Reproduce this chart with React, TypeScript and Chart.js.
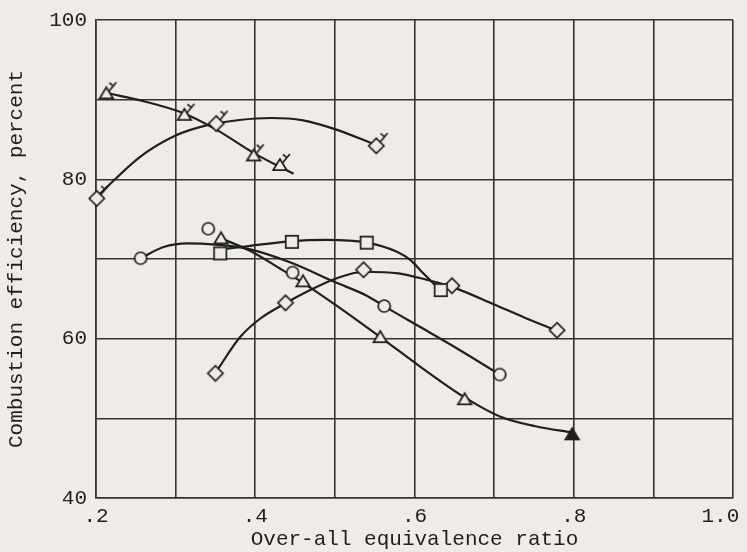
import { useEffect, useRef } from 'react';
import { Chart, registerables } from 'chart.js';

Chart.register(...registerables);

const PAPER = '#efebe7';
const INK = '#1f1f1f';
const GRID = '#333333';
const FONT = "'Liberation Mono', 'DejaVu Sans Mono', monospace";

// X axis tick labels (every other grid line is labelled)
const xTickLabels: Record<number, string> = { 2: '.2', 4: '.4', 6: '.6', 8: '.8', 10: '1.0  ' };
const yTickLabels = [40, 60, 80, 100];

// Flagged triangles
const flagTriX = [0.213, 0.311, 0.398, 0.431];
const flagTriY = [90.8, 88.1, 83.0, 81.8];
const flagTriCurveX = [0.215, 0.26, 0.31, 0.35, 0.40, 0.448];
const flagTriCurveY = [90.8, 89.8, 88.3, 86.3, 83.2, 80.7];

// Flagged diamonds
const flagDiaX = [0.201, 0.351, 0.552];
const flagDiaY = [77.6, 87.0, 84.2];
const flagDiaCurveX = [0.203, 0.255, 0.30, 0.34, 0.38, 0.42, 0.46, 0.50, 0.552];
const flagDiaCurveY = [78.0, 82.8, 85.5, 86.8, 87.45, 87.7, 87.4, 86.3, 84.3];

// Circles
const circleX = [0.256, 0.341, 0.447, 0.562, 0.707];
const circleY = [70.1, 73.8, 68.3, 64.1, 55.5];
const circleCurveX = [0.256, 0.285, 0.315, 0.35, 0.39, 0.446, 0.50, 0.54, 0.565, 0.61, 0.653, 0.707];
const circleCurveY = [70.1, 71.5, 71.95, 71.8, 71.3, 69.5, 67.1, 65.4, 63.9, 61.3, 58.8, 55.5];

// Triangles
const triX = [0.357, 0.460, 0.557, 0.663, 0.798];
const triY = [72.6, 67.2, 60.2, 52.4, 48.0];
const triCurveX = [0.357, 0.394, 0.431, 0.46, 0.507, 0.557, 0.607, 0.665, 0.708, 0.752, 0.799];
const triCurveY = [72.6, 71.0, 68.8, 67.0, 63.8, 60.2, 56.5, 52.5, 50.2, 49.0, 48.2];

// Squares
const squareX = [0.356, 0.446, 0.540, 0.633];
const squareY = [70.7, 72.15, 72.05, 66.1];
const squareCurveX = [0.356, 0.39, 0.446, 0.49, 0.54, 0.578, 0.595, 0.611, 0.632];
const squareCurveY = [71.2, 71.6, 72.25, 72.4, 72.05, 70.9, 69.85, 68.2, 66.1];

// Diamonds
const diaX = [0.350, 0.438, 0.536, 0.647, 0.779];
const diaY = [55.65, 64.5, 68.65, 66.65, 61.05];
const diaCurveX = [0.350, 0.381, 0.406, 0.439, 0.469, 0.50, 0.536, 0.58, 0.615, 0.647, 0.70, 0.737, 0.779];
const diaCurveY = [55.7, 60.2, 62.5, 64.5, 66.1, 67.5, 68.4, 68.2, 67.4, 66.5, 64.3, 62.7, 61.0];

type Kind = 'circle' | 'square' | 'triangle' | 'diamond';

function makeMarker(kind: Kind, flagged: boolean, filled = false): HTMLCanvasElement {
  const c = document.createElement('canvas');
  c.width = 36;
  c.height = 36;
  const g = c.getContext('2d')!;
  g.translate(18, 18);
  g.lineWidth = 1.7;
  g.strokeStyle = INK;
  g.fillStyle = filled ? INK : PAPER;
  g.lineJoin = 'miter';
  g.beginPath();
  let fx = 0;
  let fy = 0;
  if (kind === 'circle') {
    g.arc(0, 0, 6, 0, Math.PI * 2);
  } else if (kind === 'square') {
    g.rect(-6.2, -6.2, 12.4, 12.4);
  } else if (kind === 'triangle') {
    g.moveTo(0, -6);
    g.lineTo(6.8, 5.2);
    g.lineTo(-6.8, 5.2);
    g.closePath();
    fx = 2.5; fy = -2;
  } else {
    g.moveTo(0, -7.6);
    g.lineTo(7.6, 0);
    g.lineTo(0, 7.6);
    g.lineTo(-7.6, 0);
    g.closePath();
    fx = 3.8; fy = -3.8;
  }
  g.fill();
  g.stroke();
  if (flagged) {
    g.beginPath();
    g.lineWidth = 1.7;
    g.moveTo(fx, fy);
    g.lineTo(fx + 7.5, fy - 9);
    g.moveTo(fx + 4.5, fy - 5.4);
    g.lineTo(fx + 0.5, fy - 8.5);
    g.stroke();
  }
  return c;
}

function pts(xs: number[], ys: number[]) {
  return xs.map((x, i) => ({ x, y: ys[i] }));
}

export default function App() {
  const ref = useRef<HTMLCanvasElement>(null);

  useEffect(() => {
    if (!ref.current) return;
    const flagTri = makeMarker('triangle', true);
    const flagDia = makeMarker('diamond', true);
    const circ = makeMarker('circle', false);
    const tri = makeMarker('triangle', false);
    const triFilled = makeMarker('triangle', false, true);
    const sq = makeMarker('square', false);
    const dia = makeMarker('diamond', false);

    const curve = (xs: number[], ys: number[]) => ({
      data: pts(xs, ys),
      showLine: true,
      borderColor: INK,
      borderWidth: 2.2,
      pointRadius: 0,
      cubicInterpolationMode: 'monotone' as const,
      fill: false,
      order: 2,
      clip: false as const,
    });
    const marks = (xs: number[], ys: number[], style: any) => ({
      data: pts(xs, ys),
      showLine: false,
      pointStyle: style,
      pointRadius: 6,
      order: 1,
      clip: false as const,
    });

    const chart = new Chart(ref.current, {
      type: 'scatter',
      data: {
        datasets: [
          marks(flagTriX, flagTriY, flagTri),
          marks(flagDiaX, flagDiaY, flagDia),
          marks(circleX, circleY, circ),
          marks(triX, triY, triX.map((_, i) => (i === triX.length - 1 ? triFilled : tri))),
          marks(squareX, squareY, sq),
          marks(diaX, diaY, dia),
          curve(flagTriCurveX, flagTriCurveY),
          curve(flagDiaCurveX, flagDiaCurveY),
          curve(circleCurveX, circleCurveY),
          curve(triCurveX, triCurveY),
          curve(squareCurveX, squareCurveY),
          curve(diaCurveX, diaCurveY),
        ] as any,
      },
      options: {
        animation: false,
        responsive: false,
        devicePixelRatio: 1,
        events: [],
        layout: { padding: { left: 0, top: 20, right: 14, bottom: 0 } },
        plugins: { legend: { display: false }, tooltip: { enabled: false } },
        scales: {
          x: {
            type: 'linear',
            min: 0.2,
            max: 1.0,
            afterFit: (s: any) => {
              s.height = 54;
              s.paddingLeft = 0;
              s.paddingRight = 0;
            },
            afterBuildTicks: (s: any) => {
              s.ticks = [2, 3, 4, 5, 6, 7, 8, 9, 10].map((v) => ({ value: v / 10 }));
            },
            ticks: {
              autoSkip: false,
              maxRotation: 0,
              padding: 6,
              color: INK,
              font: { family: FONT, size: 21 },
              callback: (v: any) => xTickLabels[Math.round(Number(v) * 10)] ?? '',
            },
            grid: { color: GRID, lineWidth: 1.6, drawTicks: false },
            border: { color: GRID, width: 1.6 },
            title: {
              display: true,
              text: 'Over-all equivalence ratio',
              color: INK,
              font: { family: FONT, size: 21 },
              padding: { top: 0, bottom: 0 },
            },
          },
          y: {
            type: 'linear',
            min: 40,
            max: 100,
            afterFit: (s: any) => {
              s.width = 96;
              s.paddingTop = 0;
              s.paddingBottom = 0;
            },
            ticks: {
              stepSize: 10,
              autoSkip: false,
              padding: 9,
              color: INK,
              font: { family: FONT, size: 21 },
              callback: (v: any) => (yTickLabels.includes(Number(v)) ? String(v) : ''),
            },
            grid: { color: GRID, lineWidth: 1.6, drawTicks: false },
            border: { color: GRID, width: 1.6 },
            title: {
              display: true,
              text: 'Combustion efficiency, percent',
              color: INK,
              font: { family: FONT, size: 21 },
              padding: { top: 4, bottom: 0 },
            },
          },
        },
      },
    });
    return () => chart.destroy();
  }, []);

  return (
    <div style={{ position: 'fixed', left: 0, top: 0, width: 747, height: 552, background: PAPER }}>
      <canvas ref={ref} width={747} height={552} style={{ display: 'block' }} />
    </div>
  );
}
